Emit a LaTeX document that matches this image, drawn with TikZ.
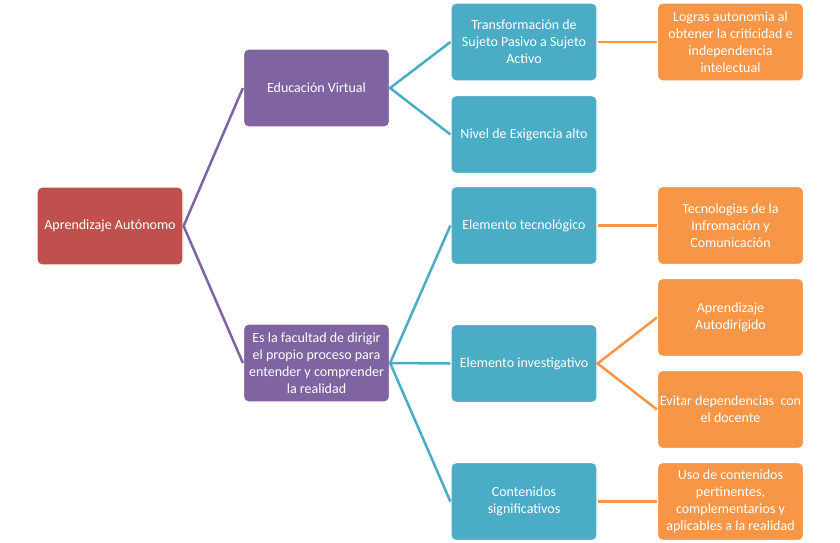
\documentclass[tikz,border=0pt]{standalone}
\usepackage{fontspec}
\setmainfont{Carlito}
\usepackage{tikz}
\usetikzlibrary{positioning}

\definecolor{rojo}{HTML}{C0504D}
\definecolor{morado}{HTML}{8064A2}
\definecolor{azul}{HTML}{4BACC6}
\definecolor{naranja}{HTML}{F79646}

\begin{document}
\begin{tikzpicture}[x=1pt,y=-1pt,
	caja/.style={draw=white, line width=1.2pt, rounded corners=5pt,
		minimum width=146pt, minimum height=78pt, inner sep=1pt,
		align=center, text=white, font=\fontsize{14}{17}\selectfont},
	rojb/.style={caja, fill=rojo}, morb/.style={caja, fill=morado},
	azub/.style={caja, fill=azul}, narb/.style={caja, fill=naranja},
	linm/.style={draw=morado, line width=2.5pt},
	lina/.style={draw=azul, line width=2.5pt},
	linn/.style={draw=naranja, line width=2.5pt}]
	\fill[white] (0,0) rectangle (840,542);
	\useasboundingbox (0,0) rectangle (840,542);
	\node [rojb] (0) at (110,226) {Aprendizaje Aut\'onomo};
	\node [morb] (1) at (316.5,88) {Educaci\'on Virtual};
	\node [morb] (2) at (316.5,363) {Es la facultad de dirigir\\el propio proceso para\\entender y comprender\\la realidad};
	\node [azub] (3) at (524,42) {Transformaci\'on de\\Sujeto Pasivo a Sujeto\\Activo};
	\node [azub] (4) at (524,134.5) {Nivel de Exigencia alto};
	\node [azub] (5) at (524,225.5) {Elemento tecnol\'ogico};
	\node [azub] (6) at (524,363.5) {Elemento investigativo};
	\node [azub] (7) at (524,501.5) {Contenidos\\significativos};
	\node [narb] (8) at (730.5,42) {Logras autonomia al\\obtener la criticidad e\\independencia\\intelectual};
	\node [narb] (9) at (730.5,225.5) {Tecnologias de la\\Infromaci\'on y\\Comunicaci\'on};
	\node [narb] (10) at (730.5,317.5) {Aprendizaje\\Autodirigido};
	\node [narb] (11) at (730.5,409.5) {Evitar dependencias\ \ con\\el docente};
	\node [narb] (12) at (730.5,501.5) {Uso de contenidos\\pertinentes,\\complementarios y\\aplicables a la realidad};
	\draw [linm] (1.west)--(0.east)--(2.west);
	\draw [lina] (3.west)--(1.east)--(4.west);
	\draw [lina] (5.west)--(2.east)--(7.west);
	\draw [lina] (2.east) to (6.west);
	\draw [linn] (3.east) to (8.west);
	\draw [linn] (5.east) to (9.west);
	\draw [linn] (10.west)--(6.east)--(11.west);
	\draw [linn] (7.east) to (12.west);
\end{tikzpicture}
\end{document}
